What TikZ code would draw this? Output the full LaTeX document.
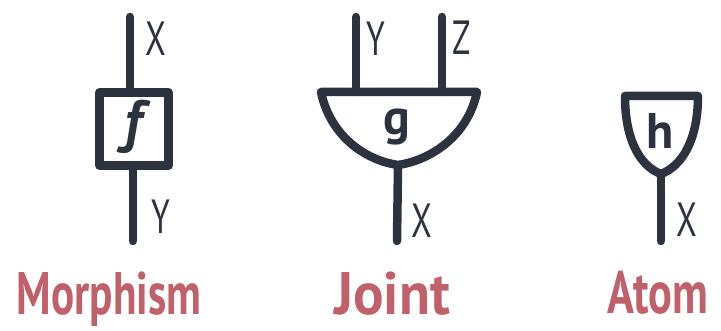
\documentclass[tikz,border=0pt]{standalone}
\usepackage{fontspec}
\setmainfont{PT Sans}
\usepackage{tikz}

\definecolor{ink}{HTML}{2C333F}
\definecolor{rose}{HTML}{C0606A}

\newcommand{\narrow}[2][0.7]{\scalebox{#1}[1]{#2}}

\begin{document}
\begin{tikzpicture}[x=1pt,y=-1pt]
            \tikzset{wire/.style = {draw=ink, line width=8.5pt, line cap=round, line join=round}}
            \tikzset{box/.style = {wire, rectangle, minimum width=69pt, minimum height=73pt}}
            \tikzset{type/.style = {text=ink, inner sep=0pt, font=\fontsize{48}{48}\selectfont}}
            \tikzset{gen/.style = {text=ink, inner sep=0pt, font=\bfseries\fontsize{50}{50}\selectfont}}
            \tikzset{kind/.style = {text=rose, inner sep=0pt, anchor=base, font=\bfseries\fontsize{60}{60}\selectfont}}

            \useasboundingbox (0,0) rectangle (721,331);

            % morphism
            \node[box] (f) at (134,129) {};
            \node[gen, font=\bfseries\itshape\fontsize{58}{58}\selectfont] (flab) at (133,127) {f};
            \coordinate (fin) at (130,17);
            \coordinate (fout) at (133,241);
            \draw[wire] (fin) -- (f.north -| fin);
            \draw[wire] (f.south -| fout) -- (fout);
            \node[type] (fx) at (156,39) {\narrow{X}};
            \node[type] (fy) at (161,217) {\narrow{Y}};

            % joint
            \coordinate (gl) at (321,92);
            \coordinate (gr) at (477,92);
            \coordinate (gb) at (398,165);
            \coordinate (gy) at (356,17);
            \coordinate (gz) at (442,17);
            \coordinate (gout) at (397,241);
            \draw[wire] (gl) -- (gr) .. controls (468,135) and (432,160) .. (gb)
                  .. controls (364,160) and (330,135) .. (gl) -- cycle;
            \draw[wire] (gy) -- (gy |- gl);
            \draw[wire] (gz) -- (gz |- gr);
            \draw[wire] (gb) -- (gout);
            \node[gen] (g) at (397,127) {g};
            \node[type] (gyl) at (376,39) {\narrow{Y}};
            \node[type] (gzl) at (462,38) {\narrow{Z}};
            \node[type] (gx) at (422,221) {\narrow{X}};

            % atom
            \coordinate (hl) at (625,96);
            \coordinate (hr) at (698,96);
            \coordinate (hb) at (661,174);
            \coordinate (hout) at (661,241);
            \draw[wire] (hl) -- (hr) .. controls (698,140) and (682,166) .. (hb)
                  .. controls (640,166) and (625,140) .. (hl) -- cycle;
            \draw[wire] (hb) -- (hout);
            \node[gen] (h) at (660,131) {h};
            \node[type] (hx) at (687,220) {\narrow{X}};

            \node[kind] (morph) at (109,315) {\narrow[0.72]{Morphism}};
            \node[kind] (joint) at (392,315) {\narrow[0.95]{Joint}};
            \node[kind] (atom) at (658,314) {\narrow[0.74]{Atom}};
\end{tikzpicture}
\end{document}
